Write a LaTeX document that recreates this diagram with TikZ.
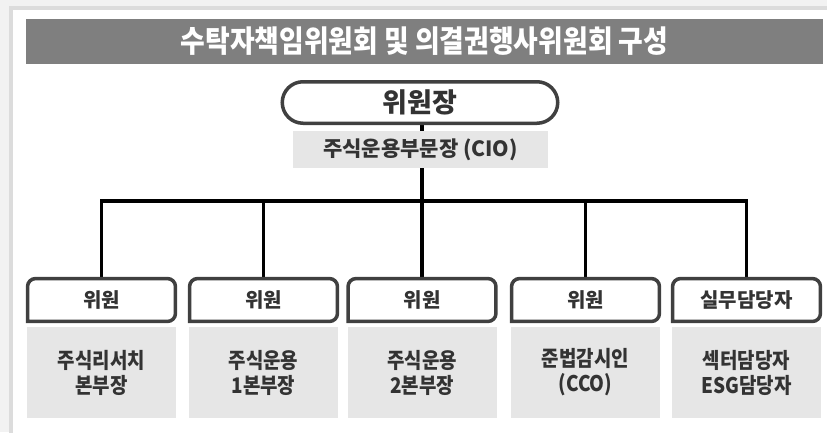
\documentclass[tikz,border=0pt]{standalone}
\usepackage{fontspec}
\usetikzlibrary{shapes.misc,backgrounds}
\newfontfamily\kr[BoldFont={Noto Sans CJK KR Black}]{Noto Sans CJK KR}
\newfontfamily\krn[FakeStretch=0.88,BoldFont={Noto Sans CJK KR Black}]{Noto Sans CJK KR}
\definecolor{bgout}{HTML}{F2F2F2}
\definecolor{bgline}{HTML}{DCDCDC}
\definecolor{titlegray}{HTML}{7F7F7F}
\definecolor{boxgray}{HTML}{E6E6E6}
\definecolor{ink}{HTML}{333333}
\definecolor{edge}{HTML}{404040}

\begin{document}
\begin{tikzpicture}[x=1pt,y=-1pt,
  every node/.style={text=ink, inner sep=0pt},
  titlebar/.style={fill=titlegray, text=white, minimum width=797pt, minimum height=45pt,
    font=\krn\bfseries\fontsize{30.5}{32}\selectfont},
  chairbox/.style={rounded rectangle, draw=edge, line width=3.5pt, fill=white,
    minimum width=275.5pt, minimum height=41.5pt, font=\kr\bfseries\fontsize{27}{30}\selectfont},
  ciobox/.style={fill=boxgray, minimum width=255pt, minimum height=37pt,
    font=\kr\bfseries\fontsize{21}{24}\selectfont},
  roletab/.style={minimum width=147.5pt, minimum height=42.5pt,
    font=\kr\bfseries\fontsize{20}{24}\selectfont},
  tabline/.style={draw=edge, line width=3.5pt, fill=white},
  deptbox/.style={fill=boxgray, minimum width=149pt, minimum height=91pt, align=center,
    font=\krn\bfseries\fontsize{21.5}{25}\selectfont},
  wire/.style={line width=3.2pt, black}]

\useasboundingbox (0,0) rectangle (827,432);

\begin{scope}[on background layer]
\fill[bgout] (0,0) rectangle (827,432);
\fill[bgline] (9,6) rectangle (840,445);
\fill[white] (13,10) rectangle (840,445);
\end{scope}

\node[titlebar] (title) at (424.5,41.5) {수탁자책임위원회 및 의결권행사위원회 구성};

\node[chairbox] (chair) at (420,102.5) {위원장};
\node[ciobox] (cio) at (420.5,149.5) {주식운용부문장 (CIO)};
\coordinate (bus) at (422,201);

\foreach \i/\x/\role in {1/101.5/위원, 2/263.5/위원, 3/422/위원, 4/585.5/위원, 5/746.5/실무담당자}{
  \node[roletab] (h\i) at (\x,300) {\role};
}

\node[deptbox] (b1) at (101.5,372.5) {주식리서치\\본부장};
\node[deptbox] (b2) at (263.5,372.5) {주식운용\\1본부장};
\node[deptbox] (b3) at (422,372.5) {주식운용\\2본부장};
\node[deptbox] (b4) at (585.5,372.5) {준법감시인\\(CCO)};
\node[deptbox] (b5) at (746.5,372.5) {섹터담당자\\ESG담당자};

\begin{scope}[on background layer]
\draw[wire] (chair.south -| bus) -- (bus);
\draw[wire] (h1.north) |- (bus) -| (h5.north);
\draw[wire] (h2.north) -- (h2.north |- bus);
\draw[wire] (h3.north) -- (h3.north |- bus);
\draw[wire] (h4.north) -- (h4.north |- bus);
\foreach \i in {1,...,5}{
  \draw[tabline] (h\i.south west) [rounded corners=8pt] -- (h\i.north west) -- (h\i.north east) -- (h\i.south east) [sharp corners] -- cycle;
}
\end{scope}
\end{tikzpicture}
\end{document}
